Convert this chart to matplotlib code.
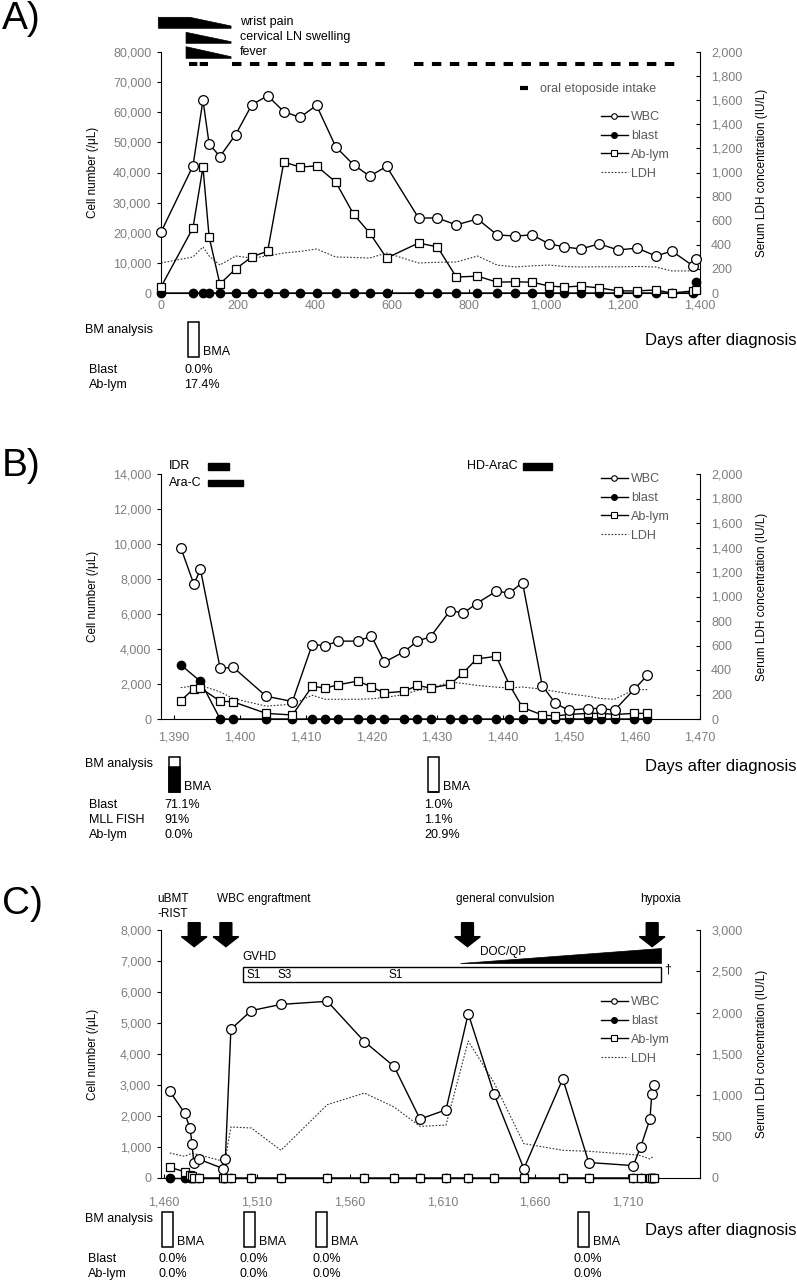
import matplotlib

matplotlib.use("Agg")
import matplotlib.pyplot as plt
import matplotlib.transforms as mtransforms
from matplotlib.lines import Line2D
from matplotlib.patches import Polygon, Rectangle
from matplotlib.ticker import FuncFormatter, MultipleLocator

plt.rcParams["font.family"] = ["Liberation Sans", "DejaVu Sans"]
plt.rcParams["lines.scale_dashes"] = False

W, H = 797, 1283
GREY = "#7f7f7f"
LEG_GREY = "#595959"

# ---------------- Panel A (days 0 - 1400) ----------------
a_days = [0, 83, 109, 125, 153, 194, 236, 277, 319, 361, 404, 454, 500, 542, 586, 669,
          718, 767, 822, 873, 920, 964, 1008, 1048, 1090, 1138, 1187, 1237, 1285, 1327, 1382, 1390]
a_wbc = [20200, 42200, 64000, 49500, 45300, 52600, 62500, 65500, 60200, 58300, 62300, 48500,
         42600, 38800, 42000, 24900, 24900, 22600, 24600, 19300, 18900, 19300, 16300, 15300,
         14600, 16300, 14300, 14900, 12300, 13900, 9000, 11300]
a_blast = [0] * 31 + [3500]
a_ablym = [2000, 21600, 41800, 18600, 3000, 8000, 12000, 13900, 43500, 41800, 42200, 36800,
           26200, 19900, 11600, 16600, 15300, 5300, 5600, 3600, 3700, 3600, 2300, 2000, 2300,
           1700, 700, 700, 1000, 0, 700, 1000]
a_ldh = [249, 299, 382, 307, 232, 307, 290, 307, 332, 345, 365, 299, 295, 290, 332, 249, 255,
         257, 307, 232, 216, 225, 232, 220, 216, 218, 217, 220, 216, 183, 183, 190]
a_symptoms = ["wrist pain", "cervical LN swelling", "fever"]
a_sym_start = [-7, 65, 65]
a_sym_plateau = [75, 65, 65]
a_sym_end = [182, 182, 182]
a_etoposide = [(73, 122), (184, 595), (657, 1340)]
a_bma_days = [85]
a_bma_blast = [0.0]
a_bm_rows = ["Blast", "Ab-lym"]
a_bm_values = [["0.0%"], ["17.4%"]]

# ---------------- Panel B (days 1388 - 1470) ----------------
b_days = [1391, 1393, 1394, 1397, 1399, 1404, 1408, 1411, 1413, 1415, 1418, 1420, 1422, 1425,
          1427, 1429, 1432, 1434, 1436, 1439, 1441, 1443, 1446, 1448, 1450, 1453, 1455, 1457,
          1460, 1462]
b_wbc = [9800, 7700, 8550, 2900, 2950, 1300, 1000, 4250, 4200, 4450, 4450, 4750, 3250, 3850,
         4450, 4700, 6200, 6050, 6600, 7300, 7200, 7800, 1900, 900, 500, 600, 600, 500, 1700, 2500]
b_ablym = [1040, 1740, 1770, 1020, 980, 320, 230, 1870, 1770, 1960, 2170, 1830, 1490, 1580,
           1920, 1770, 1980, 2640, 3430, 3580, 1960, 660, 230, 170, 260, 320, 320, 260, 320, 320]
b_blast_days = [1391, 1394] + b_days[3:]
b_blast = [3100, 2150] + [0] * 27
b_ldh = [256, 270, 275, 221, 167, 105, 121, 194, 161, 161, 161, 165, 175, 200, 235, 250, 302,
         290, 275, 260, 253, 261, 243, 225, 207, 185, 167, 161, 240, 240]
b_treat = ["IDR", "Ara-C", "HD-AraC"]
b_treat_start = [1395.1, 1395.1, 1443.0]
b_treat_end = [1398.3, 1400.5, 1447.5]
b_bma_days = [1390, 1429.5]
b_bma_blast = [71.1, 1.0]
b_bm_rows = ["Blast", "MLL FISH", "Ab-lym"]
b_bm_values = [["71.1%", "1.0%"], ["91%", "1.1%"], ["0.0%", "20.9%"]]

# ---------------- Panel C (days 1458 - 1749) ----------------
c_days = [1463, 1471, 1474, 1475, 1476, 1479, 1492, 1493, 1496, 1507, 1523, 1548, 1568, 1584,
          1598, 1612, 1624, 1638, 1654, 1675, 1689, 1713, 1717, 1722, 1723, 1724]
c_wbc = [2800, 2100, 1600, 1100, 500, 600, 300, 600, 4800, 5400, 5600, 5700, 4400, 3600, 1900,
         2200, 5300, 2700, 300, 3200, 500, 400, 1000, 1900, 2700, 3000]
c_ablym = [350, 200, 100, 50] + [0] * 22
c_blast = [0] * 26
c_ldh = [302, 262, 290, 295, 294, 280, 202, 230, 617, 605, 335, 887, 1028, 859, 625, 640, 1657,
         1150, 416, 335, 323, 283, 270, 230, 250, 255]
c_events = ["uBMT\n-RIST", "WBC engraftment", "general convulsion", "hypoxia"]
c_event_days = [1476.2, 1493.3, 1623.6, 1723.2]
c_event_text_days = [1456.4, 1488.6, 1617.5, 1716.6]
c_gvhd = (1502.4, 1728.2)
c_gvhd_stage = ["S1", "S3", "S1"]
c_gvhd_stage_days = [1504.3, 1521.0, 1580.9]
c_docqp = (1619.4, 1728.2)
c_bma_days = [1462, 1506, 1545, 1686]
c_bma_blast = [0.0, 0.0, 0.0, 0.0]
c_bm_rows = ["Blast", "Ab-lym"]
c_bm_values = [["0.0%"] * 4, ["0.0%"] * 4]

fig = plt.figure(figsize=(W / 100, H / 100), dpi=100)
comma = FuncFormatter(lambda v, p: f"{v:,.0f}")


def fy(y):
    return 1 - y / H


def make_panel(top, bottom, xlim, xticks, ylim, ystep, y2lim, y2step, xpad):
    ax = fig.add_axes([161 / W, 1 - bottom / H, 539 / W, (bottom - top) / H])
    ax2 = ax.twinx()
    ax.set_zorder(ax2.get_zorder() + 1)
    ax.patch.set_visible(False)
    ax.set_xlim(*xlim)
    ax.set_ylim(*ylim)
    ax2.set_ylim(*y2lim)
    ax.set_xticks(xticks)
    ax.yaxis.set_major_locator(MultipleLocator(ystep))
    ax2.yaxis.set_major_locator(MultipleLocator(y2step))
    for a in (ax.xaxis, ax.yaxis, ax2.yaxis):
        a.set_major_formatter(comma)
    ax.spines["top"].set_visible(False)
    ax.spines["right"].set_visible(False)
    for s in ("top", "left", "bottom"):
        ax2.spines[s].set_visible(False)
    ax.tick_params(axis="y", direction="out", length=3, width=0.8, labelsize=9,
                   labelcolor=GREY, pad=4)
    ax.tick_params(axis="x", direction="in", length=3, width=0.8, labelsize=9,
                   labelcolor=GREY, pad=xpad)
    ax2.tick_params(axis="y", direction="in", length=3, width=0.8, labelsize=9,
                    labelcolor=GREY, pad=8)
    mid = (top + bottom) / 2
    fig.text(93 / W, fy(mid), "Cell number (/μL)", rotation=90, ha="center", va="center",
             fontsize=8.5)
    fig.text(762 / W, fy(mid), "Serum LDH concentration (IU/L)", rotation=90, ha="center",
             va="center", fontsize=8.5)
    return ax, ax2


def draw_series(ax, ax2, days, wbc, blast_days, blast, ablym, ldh):
    ax2.plot(days, ldh, color="#333333", lw=0.8, ls=(0, (1.2, 1.2)))
    ax.plot(blast_days, blast, "-o", color="black", mfc="black", ms=6, lw=1, zorder=3,
            clip_on=False)
    ax.plot(days, ablym, "-s", color="black", mfc="white", ms=6.3, mew=0.9, lw=1, zorder=4,
            clip_on=False)
    ax.plot(days, wbc, "-o", color="black", mfc="white", ms=7, mew=0.9, lw=1, zorder=5,
            clip_on=False)


def add_legend(ax, y_top):
    handles = [
        Line2D([], [], color="black", lw=1, marker="o", ms=4, mfc="white", mew=0.8),
        Line2D([], [], color="black", lw=1, marker="o", ms=4, mfc="black"),
        Line2D([], [], color="black", lw=1, marker="s", ms=4, mfc="white", mew=0.8),
        Line2D([], [], color="#333333", lw=0.8, ls=(0, (1.2, 1.2))),
    ]
    leg = ax.legend(handles, ["WBC", "blast", "Ab-lym", "LDH"], loc="upper left",
                    bbox_to_anchor=(601 / W, fy(y_top)), bbox_transform=fig.transFigure,
                    frameon=False, fontsize=9, handlelength=2.15, handletextpad=0.25,
                    labelspacing=0.55, borderpad=0, borderaxespad=0)
    for t in leg.get_texts():
        t.set_color(LEG_GREY)
    return leg


def bm_section(ax, top, bottom, box_top, box_bottom, days, blast_pct, rows, values,
               label_x, analysis_y, row_y0, days_y):
    axh = bottom - top
    trans = mtransforms.blended_transform_factory(ax.transData, ax.transAxes)
    x0, x1 = ax.get_xlim()
    bw = 11 * (x1 - x0) / 539

    def fr(y):
        return (bottom - y) / axh

    y0, y1 = fr(box_bottom), fr(box_top)
    for d, b in zip(days, blast_pct):
        ax.add_patch(Rectangle((d - bw / 2, y0), bw, y1 - y0, transform=trans, fc="white",
                               ec="black", lw=1.1, clip_on=False, zorder=6))
        if b > 0:
            ax.add_patch(Rectangle((d - bw / 2, y0), bw, (y1 - y0) * b / 100, transform=trans,
                                   fc="black", ec="black", lw=1.1, clip_on=False, zorder=6))
        tr = mtransforms.offset_copy(trans, fig=fig, x=4, y=0, units="dots")
        ax.text(d + bw / 2, fr(box_bottom - 5), "BMA", transform=tr, ha="left", va="center",
                fontsize=9, clip_on=False)
    fig.text(85 / W, fy(analysis_y), "BM analysis", ha="left", va="center", fontsize=9)
    fig.text(645 / W, fy(days_y), "Days after diagnosis", ha="left", va="center", fontsize=12)
    trv = mtransforms.offset_copy(trans, fig=fig, x=-4, y=0, units="dots")
    for i, (name, vals) in enumerate(zip(rows, values)):
        yy = row_y0 + 15 * i
        fig.text(label_x / W, fy(yy), name, ha="left", va="center", fontsize=9)
        for d, v in zip(days, vals):
            ax.text(d - bw / 2, fr(yy), v, transform=trv, ha="left", va="center", fontsize=9,
                    clip_on=False)


# ================= Panel A =================
A_TOP, A_BOT = 52, 293
ax, ax2 = make_panel(A_TOP, A_BOT, (0, 1400), range(0, 1401, 200), (0, 80000), 10000,
                     (0, 2000), 200, 5)
draw_series(ax, ax2, a_days, a_wbc, a_days, a_blast, a_ablym, a_ldh)
add_legend(ax, 111)
tA = mtransforms.blended_transform_factory(ax.transData, ax.transAxes)


def afr(y):
    return (A_BOT - y) / (A_BOT - A_TOP)


sym_y = [(17.3, 28.3, 26.0), (32.3, 43.3, 41.7), (46.7, 58.3, 56.7)]
for name, s, p, e, (yt, yb, yr) in zip(a_symptoms, a_sym_start, a_sym_plateau, a_sym_end, sym_y):
    pts = [(s, afr(yt)), (p, afr(yt)), (e, afr(yr)), (e, afr(yb)), (s, afr(yb))]
    ax.add_patch(Polygon(pts, closed=True, fc="black", ec="black", lw=0.5, transform=tA,
                         clip_on=False))
    ax.text(205, afr((yt + yb) / 2 - 0.5), name, transform=tA, ha="left", va="center",
            fontsize=9, clip_on=False)
for k, (s, e) in enumerate(a_etoposide):
    dash = (6.0, 1.7) if k == 0 else (6.8, 6.1)
    ax.plot([s, e], [afr(64.3), afr(64.3)], transform=tA, color="black", lw=2.9,
            dashes=dash, solid_capstyle="butt", dash_capstyle="butt", clip_on=False)
eto = fig.legend([Line2D([], [], color="black", lw=3, solid_capstyle="butt")],
                 ["oral etoposide intake"], loc="upper left", bbox_to_anchor=(520 / W, fy(83)),
                 frameon=False, fontsize=9, handlelength=0.64, handletextpad=1.0,
                 borderpad=0, borderaxespad=0)
for t in eto.get_texts():
    t.set_color(LEG_GREY)
bm_section(ax, A_TOP, A_BOT, 322, 357, a_bma_days, a_bma_blast, a_bm_rows, a_bm_values,
           89, 330, 370, 340)
fig.text(2 / W, fy(19), "A)", fontsize=28, ha="left", va="center")

# ================= Panel B =================
B_TOP, B_BOT = 474, 719
bx, bx2 = make_panel(B_TOP, B_BOT, (1388, 1470), range(1390, 1471, 10), (0, 14000), 2000,
                     (0, 2000), 200, 9)
draw_series(bx, bx2, b_days, b_wbc, b_blast_days, b_blast, b_ablym, b_ldh)
add_legend(bx, 473)
b_bar_y = [(14229, 14629), (13314, 13657), (14229, 14629)]
for name, s, e, (y0, y1) in zip(b_treat, b_treat_start, b_treat_end, b_bar_y):
    bx.add_patch(Rectangle((s, y0), e - s, y1 - y0, fc="black", ec="black", clip_on=False))
    if name == "HD-AraC":
        tr = mtransforms.offset_copy(bx.transData, fig=fig, x=-5, y=0, units="dots")
        bx.text(s, (y0 + y1) / 2, name, transform=tr, ha="right", va="center", fontsize=9,
                clip_on=False)
    else:
        bx.text(1389.2, (y0 + y1) / 2, name, ha="left", va="center", fontsize=9, clip_on=False)
bm_section(bx, B_TOP, B_BOT, 757, 792, b_bma_days, b_bma_blast, b_bm_rows, b_bm_values,
           89, 764, 805, 767)
fig.text(2 / W, fy(466), "B)", fontsize=28, ha="left", va="center")

# ================= Panel C =================
C_TOP, C_BOT = 930, 1178
cx, cx2 = make_panel(C_TOP, C_BOT, (1458.3, 1749), range(1460, 1711, 50), (0, 8000), 1000,
                     (0, 3000), 500, 13)
draw_series(cx, cx2, c_days, c_wbc, c_days, c_blast, c_ablym, c_ldh)
add_legend(cx, 996)
for name, d, td in zip(c_events, c_event_days, c_event_text_days):
    pts = [(d - 3.2, 8236), (d + 3.2, 8236), (d + 3.2, 7785), (d + 6.9, 7785), (d, 7463),
           (d - 6.9, 7785), (d - 3.2, 7785)]
    cx.add_patch(Polygon(pts, closed=True, fc="black", ec="black", clip_on=False))
    if "\n" in name:
        top_line, bottom_line = name.split("\n")
        cx.text(td, 8989, top_line, ha="left", va="center", fontsize=8.5, clip_on=False)
        cx.text(td, 8505, bottom_line, ha="left", va="center", fontsize=8.5, clip_on=False)
    else:
        cx.text(td, 8989, name, ha="left", va="center", fontsize=8.5, clip_on=False)
cx.add_patch(Rectangle((c_gvhd[0], 6333), c_gvhd[1] - c_gvhd[0], 6817 - 6333, fc="white",
                       ec="black", lw=1, clip_on=False, zorder=6))
cx.add_patch(Polygon([(c_docqp[0], 6925), (c_docqp[1], 6925), (c_docqp[1], 7409)], closed=True,
                     fc="black", ec="black", lw=0.5, clip_on=False))
cx.text(c_gvhd[0], 7140, "GVHD", ha="left", va="center", fontsize=8.5, clip_on=False)
cx.text(1630.4, 7300, "DOC/QP", ha="left", va="center", fontsize=8.5, clip_on=False)
cx.text(1729.6, 6710, "†", ha="left", va="center", fontsize=9, clip_on=False)
for s, d in zip(c_gvhd_stage, c_gvhd_stage_days):
    cx.text(d, 6560, s, ha="left", va="center", fontsize=8.5, clip_on=False, zorder=7)
bm_section(cx, C_TOP, C_BOT, 1212, 1247, c_bma_days, c_bma_blast, c_bm_rows, c_bm_values,
           88, 1219, 1259, 1230)
fig.text(2 / W, fy(904), "C)", fontsize=28, ha="left", va="center")

fig.savefig("out.png", dpi=100)
